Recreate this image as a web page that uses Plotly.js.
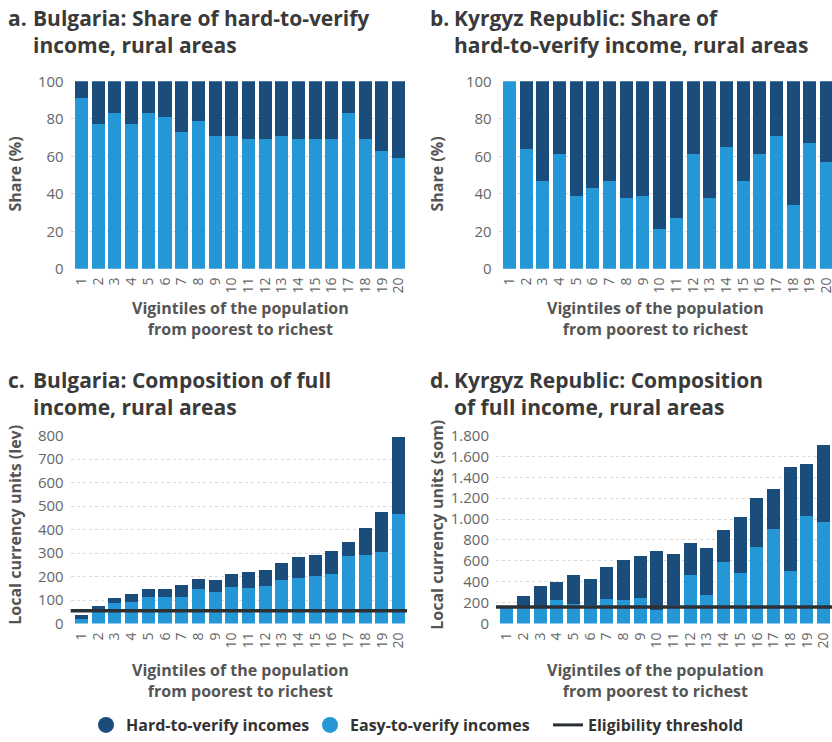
<!DOCTYPE html>
<html>
<head>
<meta charset="utf-8">
<script src="https://cdn.plot.ly/plotly-3.0.1.min.js"></script>
<style>
html,body{margin:0;padding:0;overflow:hidden;background:#fff;}
#chart{width:840px;height:742px;}
</style>
</head>
<body>
<div id="chart"></div>
<script>
// Categories: vigintiles 1..20
const vigintiles = [1,2,3,4,5,6,7,8,9,10,11,12,13,14,15,16,17,18,19,20];
const tickLabels = ["1","2","3","4","5","6","7","8","9","10","11","12","13","14","15","16","17","18","19","20"];

// Panel a: Bulgaria share (%)
const bgShareEasy = [91,77,83,77,83,81,73,79,71,71,69,69,71,69,69,69,83,69,63,59];
const bgShareHard = [9,23,17,23,17,19,27,21,29,29,31,31,29,31,31,31,17,31,37,41];

// Panel b: Kyrgyz Republic share (%)
const kgShareEasy = [100,64,47,61,39,43,47,38,39,21,27,61,38,65,47,61,71,34,67,57];
const kgShareHard = [0,36,53,39,61,57,53,62,61,79,73,39,62,35,53,39,29,66,33,43];

// Panel c: Bulgaria composition (lev)
const bgIncEasy = [20,57,87,91,113,113,113,146,134,155,151,159,185,193,201,210,290,294,303,468];
const bgIncHard = [17,18,21,34,33,33,50,43,51,55,67,68,71,89,93,101,59,114,173,325];
const bgThreshold = 55;

// Panel d: Kyrgyz Republic composition (som)
const kgIncEasy = [150,145,150,225,187,177,234,225,244,130,177,463,272,586,482,729,909,500,1033,976];
const kgIncHard = [0,118,208,171,276,248,305,380,399,561,485,313,447,314,541,475,381,999,494,732];
const kgThreshold = 158;

const cDark = "#1a4d7c";
const cLight = "#2596d6";
const cLine = "#2b3034";

const W = 840, H = 742;
const px = x => x / W;
const py = y => 1 - y / H;

const xRange = [0.35, 20.5];
const lineX = [0.2, 20.7];

function barPair(easy, hard, xa, ya) {
  return [
    {type:"bar", x:vigintiles, y:easy, xaxis:xa, yaxis:ya, marker:{color:cLight}, showlegend:false, hoverinfo:"y"},
    {type:"bar", x:vigintiles, y:hard, xaxis:xa, yaxis:ya, marker:{color:cDark}, showlegend:false, hoverinfo:"y"}
  ];
}

const traces = [
  ...barPair(bgShareEasy, bgShareHard, "x", "y"),
  ...barPair(kgShareEasy, kgShareHard, "x2", "y2"),
  ...barPair(bgIncEasy, bgIncHard, "x3", "y3"),
  ...barPair(kgIncEasy, kgIncHard, "x4", "y4"),
  {type:"scatter", mode:"lines", x:lineX, y:[bgThreshold,bgThreshold], xaxis:"x3", yaxis:"y3",
   line:{color:cLine, width:3.5}, showlegend:false, hoverinfo:"skip"},
  {type:"scatter", mode:"lines", x:lineX, y:[kgThreshold,kgThreshold], xaxis:"x4", yaxis:"y4",
   line:{color:cLine, width:3.5}, showlegend:false, hoverinfo:"skip"},
  // legend entries
  {type:"scatter", mode:"markers", x:[null], y:[null], xaxis:"x", yaxis:"y", name:"Hard-to-verify incomes",
   marker:{color:cDark, size:20, symbol:"circle"}, showlegend:true, legend:"legend"},
  {type:"scatter", mode:"markers", x:[null], y:[null], xaxis:"x", yaxis:"y", name:"Easy-to-verify incomes",
   marker:{color:cLight, size:20, symbol:"circle"}, showlegend:true, legend:"legend2"},
  {type:"scatter", mode:"lines", x:[null], y:[null], xaxis:"x", yaxis:"y", name:"Eligibility threshold",
   line:{color:cLine, width:3}, showlegend:true, legend:"legend3"}
];

const tickFont = {family:"Open Sans", size:15, color:"#666"};
const xTickFont = {family:"Open Sans", size:14, color:"#666"};

function xAxis(x0, x1, anchor) {
  return {domain:[px(x0), px(x1)], range:xRange, anchor:anchor, tickmode:"array",
          tickvals:vigintiles, ticktext:tickLabels, tickangle:-90, tickfont:xTickFont,
          ticklabelstandoff:5,
          showgrid:false, zeroline:false, showline:false, ticks:"", fixedrange:true};
}
function yAxis(y0, y1, range, dtick, anchor, fmt) {
  return {domain:[py(y1), py(y0)], range:range, dtick:dtick, anchor:anchor, tickfont:tickFont,
          ticklabelstandoff:6,
          showgrid:true, gridcolor:"#d9d9d9", griddash:"dot", gridwidth:1, zeroline:false,
          showline:false, ticks:"", tickformat:fmt || "", fixedrange:true};
}

const titleFont = {family:"Open Sans", size:21, color:"#3a3a3a", weight:700};
const axTitleFont = {family:"Open Sans", size:16, color:"#555", weight:700};
const legFont = {family:"Open Sans", size:16, color:"#333", weight:700};

function ann(text, x, y, font, opts) {
  return Object.assign({text:text, x:px(x), y:py(y), xref:"paper", yref:"paper",
    showarrow:false, font:font, xanchor:"left", yanchor:"top", align:"left"}, opts || {});
}

const xTitle = "Vigintiles of the population<br>from poorest to richest";
const ctr = {xanchor:"center", yanchor:"middle", align:"center"};
const vert = {xanchor:"center", yanchor:"middle", textangle:-90};

const annotations = [
  ann("a.", 6, 2, titleFont),
  ann("Bulgaria: Share of hard-to-verify<br>income, rural areas", 31, 2, titleFont),
  ann("b.", 428, 2, titleFont),
  ann("Kyrgyz Republic: Share of<br>hard-to-verify income, rural areas", 452, 2, titleFont),
  ann("c.", 6, 367, titleFont),
  ann("Bulgaria: Composition of full<br>income, rural areas", 31, 367, titleFont),
  ann("d.", 428, 367, titleFont),
  ann("Kyrgyz Republic: Composition<br>of full income, rural areas", 452, 367, titleFont),
  ann(xTitle, 240, 321, axTitleFont, ctr),
  ann(xTitle, 655, 321, axTitleFont, ctr),
  ann(xTitle, 240, 686, axTitleFont, ctr),
  ann(xTitle, 655, 686, axTitleFont, ctr),
  ann("Share (%)", 15, 176, axTitleFont, vert),
  ann("Share (%)", 437, 176, axTitleFont, vert),
  ann("Local currency units (lev)", 15, 529, axTitleFont, vert),
  ann("Local currency units (som)", 437, 529, axTitleFont, vert)
];

function leg(x) {
  return {orientation:"h", x:px(x), y:py(731), xanchor:"left", yanchor:"middle",
          font:legFont, itemsizing:"trace", bgcolor:"rgba(0,0,0,0)", borderwidth:0};
}

const layout = {
  width:W, height:H,
  margin:{l:0, r:0, t:0, b:0},
  paper_bgcolor:"#fff", plot_bgcolor:"#fff",
  barmode:"stack", bargap:0.22,
  separators:",.",
  font:{family:"Open Sans", color:"#555"},
  xaxis: xAxis(70.7, 407, "y"),
  yaxis: yAxis(82, 271, [0,100], 20, "x"),
  xaxis2: xAxis(498.7, 834.8, "y2"),
  yaxis2: yAxis(82, 271, [0,100], 20, "x2"),
  xaxis3: xAxis(70.7, 407, "y3"),
  yaxis3: yAxis(439.3, 628.7, [0,800], 100, "x3"),
  xaxis4: xAxis(496, 832, "y4"),
  yaxis4: yAxis(439, 628.7, [0,1800], 200, "x4", ",d"),
  annotations: annotations,
  showlegend:true,
  legend: leg(86),
  legend2: leg(310),
  legend3: leg(548)
};

Plotly.newPlot("chart", traces, layout, {displayModeBar:false, staticPlot:true});
</script>
</body>
</html>
